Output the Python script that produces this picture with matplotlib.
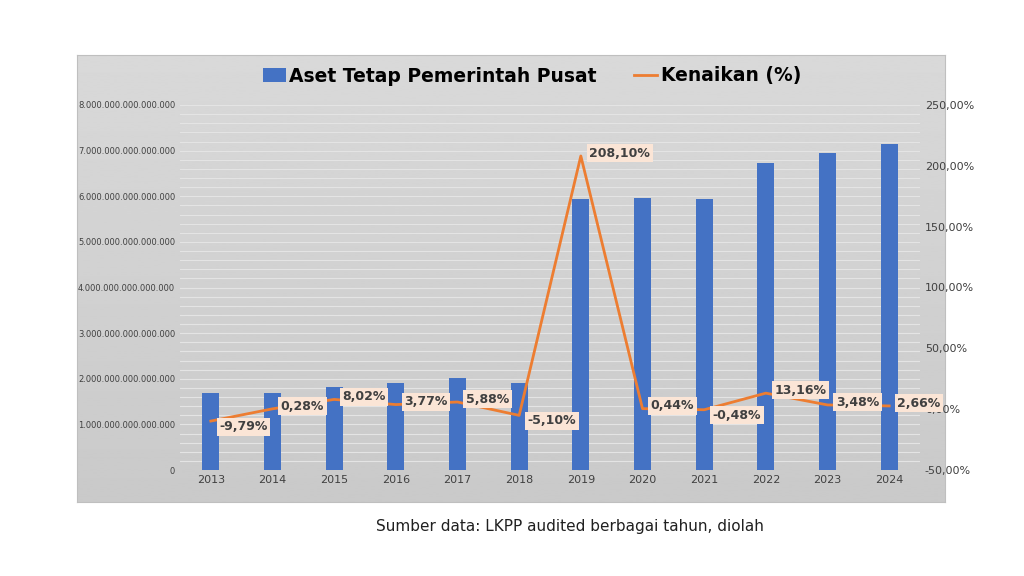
import matplotlib
matplotlib.use("Agg")
import matplotlib.pyplot as plt
import numpy as np

years = ["2013","2014","2015","2016","2017","2018","2019","2020","2021","2022","2023","2024"]
aset = [1.69e15,1.69e15,1.82e15,1.91e15,2.02e15,1.91e15,5.94e15,5.96e15,5.94e15,6.73e15,6.95e15,7.14e15]
kenaikan = [-9.79,0.28,8.02,3.77,5.88,-5.10,208.10,0.44,-0.48,13.16,3.48,2.66]
labels = ["-9,79%","0,28%","8,02%","3,77%","5,88%","-5,10%","208,10%","0,44%","-0,48%","13,16%","3,48%","2,66%"]

fig = plt.figure(figsize=(10.24,5.76), dpi=100)
bg = fig.add_axes([77/1024, 1-502/576, 868/1024, 447/576])
bg.set_xticks([]); bg.set_yticks([])
grad = np.linspace(0.85, 0.79, 256).reshape(-1,1)
bg.imshow(grad, cmap="gray", vmin=0, vmax=1, aspect="auto", extent=[0,1,0,1])
for s in bg.spines.values(): s.set_color("#bfbfbf")
bg.set_zorder(0)

ax = fig.add_axes([180/1024, 1-470/576, 740/1024, 365/576])
ax.patch.set_alpha(0)
ax.set_zorder(1)
x = np.arange(len(years))
ax.set_ylim(0, 8e15)
ax.set_xlim(-0.5, len(years)-0.5)
for v in np.arange(2e14, 8e15+1, 2e14):
    ax.axhline(v, color="#e4e4e4", lw=0.8, zorder=0)
ax.bar(x, aset, width=0.28, color="#4472c4", zorder=2, label="Aset Tetap Pemerintah Pusat")
ax.set_yticks(np.arange(0, 8.01e15, 1e15))
def fmt(v):
    if v == 0: return "0"
    return f"{int(round(v)):,}".replace(",", ".")
ax.set_yticklabels([fmt(v) for v in np.arange(0, 8.01e15, 1e15)], fontsize=6, color="#404040")
ax.set_xticks(x); ax.set_xticklabels(years, fontsize=8, color="#404040")
ax.tick_params(length=0)
for s in ax.spines.values(): s.set_visible(False)

ax2 = ax.twinx()
ax2.set_zorder(3)
ax2.set_ylim(-50, 250)
ax2.plot(x, kenaikan, color="#ed7d31", lw=2, label="Kenaikan (%)")
ax2.set_yticks(np.arange(-50, 251, 50))
ax2.set_yticklabels([f"{v:.2f}%".replace(".", ",") for v in np.arange(-50, 251, 50)], fontsize=8, color="#404040")
ax2.tick_params(length=0)
for s in ax2.spines.values(): s.set_visible(False)
for xi, yi, lb in zip(x, kenaikan, labels):
    ax2.annotate(lb, (xi, yi), xytext=(6, -4 if yi < 0 else 2), textcoords="offset points",
                 ha="left", va="center", fontsize=9, fontweight="bold", color="#404040",
                 bbox=dict(boxstyle="square,pad=0.2", fc="#fbe5d6", ec="none"))

h1, l1 = ax.get_legend_handles_labels()
h2, l2 = ax2.get_legend_handles_labels()
fig.legend(h1+h2, l1+l2, loc="center", bbox_to_anchor=(532/1024, 1-76/576), ncol=2, frameon=False,
           prop=dict(size=13.5, weight="bold"), handlelength=1.2, handletextpad=0.2, columnspacing=2.0)

fig.text(570/1024, 1-527/576, "Sumber data: LKPP audited berbagai tahun, diolah", ha="center", va="center",
         fontsize=11, color="#202020")
fig.savefig("out.png", dpi=100)
